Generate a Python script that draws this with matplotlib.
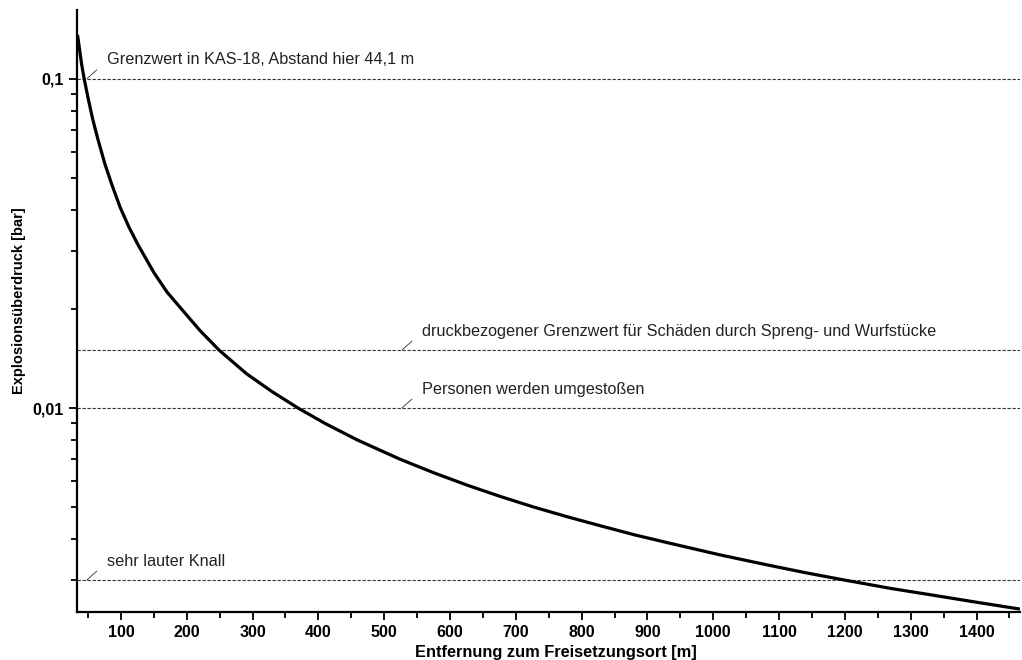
import matplotlib
matplotlib.use("Agg")
import matplotlib.pyplot as plt
from matplotlib.ticker import FixedLocator, NullFormatter

plt.rcParams['font.family'] = ['Liberation Sans', 'DejaVu Sans']

# Curve data: distance [m] vs. overpressure [bar]
distance_m = [34, 40, 44.1, 50, 57, 65, 76, 87, 99, 112, 126, 150, 170, 190,
              220, 249, 270, 291, 330, 369, 410, 459, 524, 575, 626, 676, 726,
              777, 828, 880, 930, 1010, 1081, 1140, 1200, 1270, 1334, 1400,
              1466]
pressure_bar = [0.136, 0.1115, 0.1, 0.0875, 0.0755, 0.0655, 0.0548, 0.0472,
                0.0406, 0.0355, 0.0313, 0.0258, 0.0225, 0.0202, 0.0172, 0.0150,
                0.0138, 0.0127, 0.0112, 0.0100, 0.00898, 0.00800, 0.00699,
                0.00636, 0.00583, 0.00539, 0.00501, 0.00468, 0.00439, 0.00412,
                0.00390, 0.00358, 0.00334, 0.00316, 0.00300, 0.00283, 0.00270,
                0.00257, 0.00245]

# Reference thresholds
threshold_values = [0.1, 0.015, 0.01, 0.003]
threshold_labels = ["Grenzwert in KAS-18, Abstand hier 44,1 m",
                    "druckbezogener Grenzwert für Schäden durch Spreng- und Wurfstücke",
                    "Personen werden umgestoßen",
                    "sehr lauter Knall"]
threshold_label_x = [48, 527, 527, 48]

x_major = list(range(100, 1401, 100))
x_minor = list(range(50, 1451, 100))
y_major = [0.01, 0.1]
y_major_labels = ["0,01", "0,1"]
y_minor = [0.003, 0.004, 0.005, 0.006, 0.007, 0.008, 0.009,
           0.02, 0.03, 0.04, 0.05, 0.06, 0.07, 0.08, 0.09]

fig = plt.figure(figsize=(10.22, 6.6), dpi=100)
ax = fig.add_axes([0.0756, 0.0727, 0.9224, 0.9123])

ax.set_yscale('log')
ax.set_xlim(33.6, 1466)
ax.set_ylim(0.0024, 0.162)

for val, lab, lx in zip(threshold_values, threshold_labels, threshold_label_x):
    ax.axhline(val, color='#333333', lw=0.8, ls=(0, (3, 1.5)), zorder=1)
    ax.annotate('', xy=(lx, val), xycoords='data', xytext=(10, 9),
                textcoords='offset pixels',
                arrowprops=dict(arrowstyle='-', lw=0.6, color='#333333',
                                shrinkA=0, shrinkB=0))
    ax.annotate(lab, xy=(lx, val), xycoords='data', xytext=(20, 19),
                textcoords='offset pixels', ha='left', va='center',
                fontsize=11.7, color='#222222')

ax.plot(distance_m, pressure_bar, color='black', lw=2.3, zorder=3,
        solid_capstyle='butt', solid_joinstyle='round')

for s in ['top', 'right']:
    ax.spines[s].set_visible(False)
for s in ['left', 'bottom']:
    ax.spines[s].set_linewidth(1.6)

ax.xaxis.set_major_locator(FixedLocator(x_major))
ax.xaxis.set_minor_locator(FixedLocator(x_minor))
ax.set_xticklabels([str(v) for v in x_major], fontweight='bold', fontsize=11.5)
ax.yaxis.set_major_locator(FixedLocator(y_major))
ax.yaxis.set_minor_locator(FixedLocator(y_minor))
ax.yaxis.set_minor_formatter(NullFormatter())
ax.set_yticklabels(y_major_labels, fontweight='bold', fontsize=11.5)

ax.tick_params(axis='both', which='major', direction='out', length=5.5,
               width=1.3, pad=4)
ax.tick_params(axis='both', which='minor', direction='out', length=4.5,
               width=1.3)

ax.set_xlabel("Entfernung zum Freisetzungsort [m]", fontweight='bold',
              fontsize=11.8)
ax.xaxis.set_label_coords(0.508, -0.055)
ax.set_ylabel("Explosionsüberdruck [bar]", fontweight='bold', fontsize=10.5)
ax.yaxis.set_label_coords(-0.054, 0.517)

fig.savefig("out.png", dpi=100)
